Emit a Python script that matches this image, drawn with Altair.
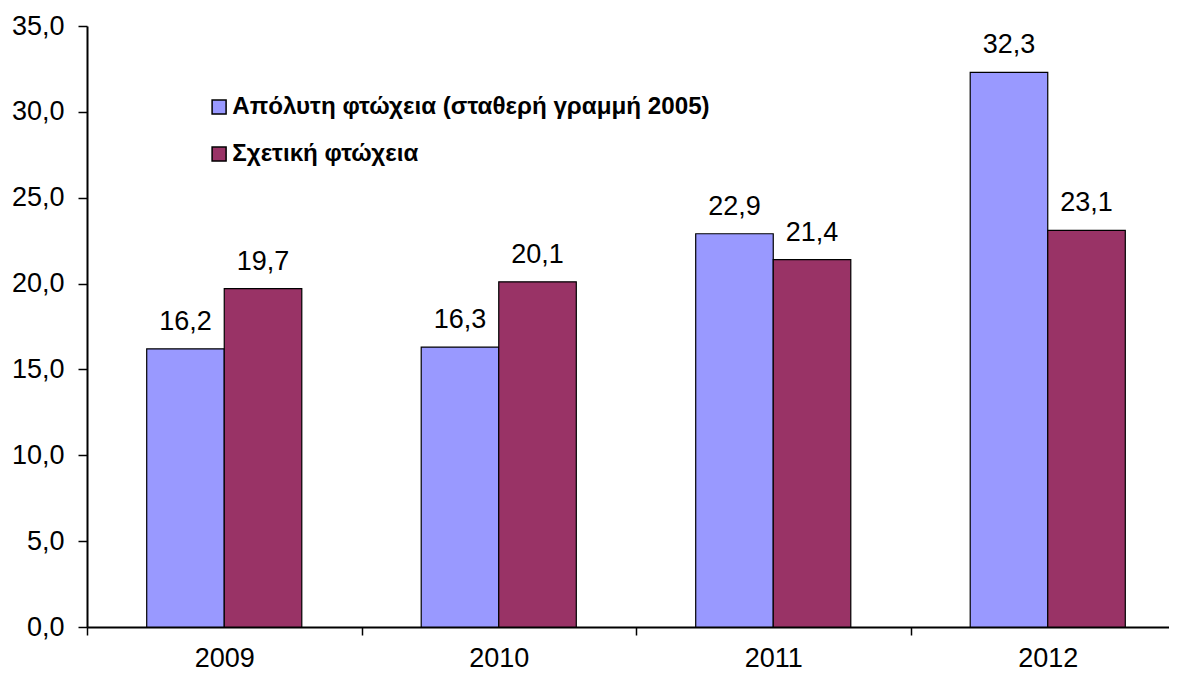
import altair as alt
import pandas as pd

years = ["2009", "2010", "2011", "2012"]
series_names = ["Απόλυτη φτώχεια (σταθερή γραμμή 2005)", "Σχετική φτώχεια"]
absolute_poverty = [16.2, 16.3, 22.9, 32.3]
relative_poverty = [19.7, 20.1, 21.4, 23.1]
colors = ["#9999FF", "#993366"]

rows = []
for i, y in enumerate(years):
    for s, vals in zip(series_names, [absolute_poverty, relative_poverty]):
        rows.append({"year": y, "series": s, "value": vals[i],
                     "label": f"{vals[i]:.1f}".replace(".", ",")})
df = pd.DataFrame(rows)

FONT = "Liberation Sans"

x = alt.X("year:N", title=None, sort=years,
          scale=alt.Scale(paddingInner=0, paddingOuter=0, range=[0, 1098]),
          axis=alt.Axis(labelAngle=0, labelFontSize=27, labelFont=FONT, labelColor="black",
                        tickBand="extent", tickSize=8, tickWidth=1.5, tickColor="black",
                        domainColor="black", domainWidth=2, labelPadding=10))
xo = alt.XOffset("series:N", sort=series_names,
                 scale=alt.Scale(paddingInner=0, paddingOuter=0.77))
y = alt.Y("value:Q", title=None,
          scale=alt.Scale(domain=[0, 35], nice=False),
          axis=alt.Axis(values=[0, 5, 10, 15, 20, 25, 30, 35], grid=False,
                        labelExpr="replace(format(datum.value, '.1f'), '.', ',')",
                        labelFontSize=27, labelFont=FONT, labelColor="black",
                        tickSize=9, tickWidth=1.5, tickColor="black",
                        domainColor="black", domainWidth=2, labelPadding=14))

bars = alt.Chart(df).mark_bar(stroke="black", strokeWidth=1.2).encode(
    x=x, xOffset=xo, y=y,
    color=alt.Color("series:N", sort=series_names,
                    scale=alt.Scale(domain=series_names, range=colors),
                    legend=alt.Legend(title=None, orient="none", legendX=120, legendY=69,
                                      symbolType="square", symbolSize=196,
                                      symbolStrokeColor="black", symbolStrokeWidth=1.5,
                                      labelFont=FONT, labelFontSize=24.2, labelFontWeight="bold",
                                      labelColor="black", labelOffset=1, rowPadding=22,
                                      labelLimit=800))
)

labels = alt.Chart(df).mark_text(fontSize=27, font=FONT, color="black",
                                 baseline="alphabetic", dy=-19).encode(
    x=x, xOffset=xo, y=y, text="label:N"
)

chart = alt.layer(bars, labels).properties(
    width=1082, height=601,
    autosize=alt.AutoSizeParams(type="none"),
    padding={"left": 79, "top": 18, "right": 0, "bottom": 44}
).configure_view(stroke=None)

chart.save("out.html", embed_options={"renderer": "svg", "actions": False})
